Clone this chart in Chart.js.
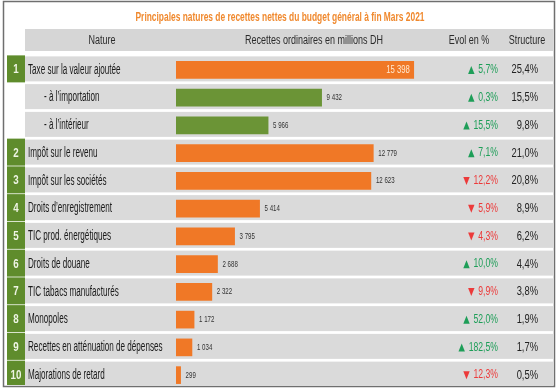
<!DOCTYPE html>
<html>
<head>
<meta charset="utf-8">
<script src="https://cdn.jsdelivr.net/npm/chart.js@4"></script>
<style>
  html, body { margin: 0; padding: 0; background: #fff; }
  #wrap { width: 559px; height: 389px; }
</style>
</head>
<body>
<div id="wrap"><canvas id="recettesChart" width="559" height="389"></canvas></div>
<script>
// ========== DATA ==========
const natures = [
  'Taxe sur la valeur ajoutée',
  '- à l\u2019importation',
  '- à l\u2019intérieur',
  'Impôt sur le revenu',
  'Impôt sur les sociétés',
  'Droits d\u2019enregistrement',
  'TIC prod. énergétiques',
  'Droits de douane',
  'TIC tabacs manufacturés',
  'Monopoles',
  'Recettes en atténuation de dépenses',
  'Majorations de retard'
];
const rowNumbers = ['1', '', '', '2', '3', '4', '5', '6', '7', '8', '9', '10'];
const recettes = [15398, 9432, 5966, 12779, 12623, 5414, 3795, 2688, 2322, 1172, 1034, 299];
const evolPct = [5.7, 0.3, 15.5, 7.1, -12.2, -5.9, -4.3, 10.0, -9.9, 52.0, 182.5, -12.3];
const structurePct = [25.4, 15.5, 9.8, 21.0, 20.8, 8.9, 6.2, 4.4, 3.8, 1.9, 1.7, 0.5];
const headers = ['Nature', 'Recettes ordinaires en millions DH', 'Evol en %', 'Structure'];
const title = 'Principales natures de recettes nettes du budget général à fin Mars 2021';

const FONT = '"Liberation Sans", Arial, sans-serif';
const ORANGE = '#F07826';
const GREEN_BAR = '#6B9436';
const GREEN_BOX = '#5F8C2C';
const BAND = '#DADADA';

const fmtNum = v => String(v).replace(/\B(?=(\d{3})+(?!\d))/g, ' ');
const fmtPct = v => Math.abs(v).toFixed(1).replace('.', ',') + '%';

// tegn smal (condensed) tekst, returnerer bredden
function narrowText(ctx, text, x, y, align, sx) {
  ctx.save();
  ctx.translate(x, y);
  ctx.scale(sx, 1);
  ctx.textAlign = align;
  ctx.textBaseline = 'middle';
  ctx.fillText(text, 0, 0);
  const w = ctx.measureText(text).width * sx;
  ctx.restore();
  return w;
}

function triangle(ctx, cx, cy, up) {
  ctx.beginPath();
  if (up) {
    ctx.moveTo(cx - 3.2, cy + 4);
    ctx.lineTo(cx + 3.2, cy + 4);
    ctx.lineTo(cx, cy - 4);
  } else {
    ctx.moveTo(cx - 3.2, cy - 4);
    ctx.lineTo(cx + 3.2, cy - 4);
    ctx.lineTo(cx, cy + 4);
  }
  ctx.closePath();
  ctx.fill();
}

// Tabel-baggrund, header og tekstkolonner
const tablePlugin = {
  id: 'tablePlugin',
  beforeDatasetsDraw(chart) {
    const ctx = chart.ctx;
    const y = chart.scales.y;
    ctx.save();
    // titel
    ctx.fillStyle = '#F0892E';
    ctx.font = 'bold 12px ' + FONT;
    narrowText(ctx, title, 280, 18, 'center', 0.70);
    // header
    ctx.fillStyle = '#D6D6D6';
    ctx.fillRect(25, 29, 528, 22);
    ctx.fillStyle = '#2b2b2b';
    ctx.font = '12px ' + FONT;
    narrowText(ctx, headers[0], 102, 41, 'center', 0.75);
    narrowText(ctx, headers[1], 314, 41, 'center', 0.75);
    narrowText(ctx, headers[2], 469, 41, 'center', 0.75);
    narrowText(ctx, headers[3], 527, 41, 'center', 0.75);

    natures.forEach((name, i) => {
      const cy = y.getPixelForValue(i);
      const top = cy - 13.5;
      const bottom = Math.min(cy + 11.5, 385);
      ctx.fillStyle = BAND;
      ctx.fillRect(25, top, 528, bottom - top);
      if (rowNumbers[i]) {
        ctx.fillStyle = GREEN_BOX;
        ctx.fillRect(7, top - 1, 18, Math.min(bottom + 1, 385) - top + 1);
        ctx.fillStyle = '#EEF4E4';
        ctx.font = 'bold 13px ' + FONT;
        narrowText(ctx, rowNumbers[i], 16, cy, 'center', 0.75);
      }
      ctx.fillStyle = '#1a1a1a';
      ctx.font = '14px ' + FONT;
      narrowText(ctx, name, rowNumbers[i] ? 28 : 44, cy, 'left', 0.58);

      // evol
      ctx.font = '12px ' + FONT;
      ctx.fillStyle = evolPct[i] >= 0 ? '#1E9E58' : '#EC3A3A';
      const w = narrowText(ctx, fmtPct(evolPct[i]), 498, cy, 'right', 0.72);
      triangle(ctx, 498 - w - 7, cy, evolPct[i] >= 0);
      // structure
      ctx.fillStyle = '#222';
      ctx.font = '12.5px ' + FONT;
      narrowText(ctx, fmtPct(structurePct[i]), 538, cy, 'right', 0.75);
    });
    ctx.restore();
  },
  afterDatasetsDraw(chart) {
    const ctx = chart.ctx;
    const meta = chart.getDatasetMeta(0);
    ctx.save();
    meta.data.forEach((bar, i) => {
      const label = fmtNum(recettes[i]);
      if (i === 0) {
        ctx.fillStyle = '#FFE9D2';
        ctx.font = '11px ' + FONT;
        narrowText(ctx, label, bar.x - 4, bar.y, 'right', 0.7);
      } else {
        ctx.fillStyle = '#333';
        ctx.font = '9px ' + FONT;
        narrowText(ctx, label, bar.x + 5, bar.y, 'left', 0.68);
      }
    });
    // ramme
    ctx.strokeStyle = '#6f6f6f';
    ctx.lineWidth = 1.5;
    ctx.strokeRect(3.5, 1.5, 551, 385);
    ctx.restore();
  }
};

document.addEventListener('DOMContentLoaded', () => {
  const ctx = document.getElementById('recettesChart').getContext('2d');
  new Chart(ctx, {
    type: 'bar',
    data: {
      labels: natures,
      datasets: [{
        label: 'Recettes ordinaires en millions DH',
        data: recettes,
        backgroundColor: rowNumbers.map(n => n ? ORANGE : GREEN_BAR),
        barThickness: 17,
        borderWidth: 0
      }]
    },
    options: {
      indexAxis: 'y',
      responsive: false,
      animation: false,
      layout: { padding: { left: 176, right: 14, top: 56, bottom: 0 } },
      scales: {
        x: { display: false, min: 0, max: 23900 },
        y: { display: false }
      },
      plugins: {
        legend: { display: false },
        tooltip: { enabled: false }
      }
    },
    plugins: [tablePlugin]
  });
});
</script>
</body>
</html>
